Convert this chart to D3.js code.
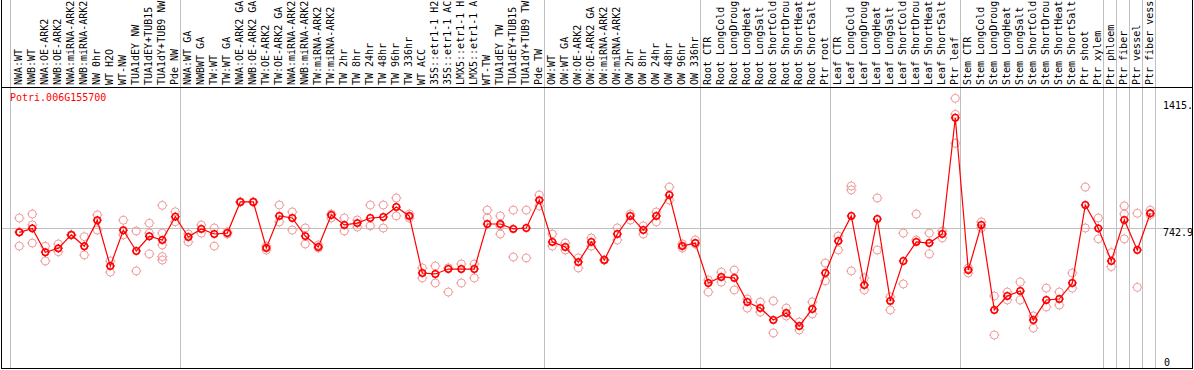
<!DOCTYPE html>
<html>
<head>
<meta charset="utf-8">
<script src="https://cdn.jsdelivr.net/npm/d3@7"></script>
<style>
  body { margin: 0; background: #fff; }
  svg { display: block; }
  text { font-family: "DejaVu Sans Mono", monospace; font-size: 10px; }
</style>
</head>
<body>
<svg id="chart" width="1194" height="370"></svg>
<script>
var geneName = "Potri.006G155700";

var sampleLabels = [
  "NWA:WT", "NWB:WT", "NWA:OE-ARK2", "NWB:OE-ARK2", "NWA:miRNA-ARK2", "NWB:miRNA-ARK2",
  "NW 0hr", "WT H2O", "WT-NW", "TUA1dEY NW", "TUA1dEY+TUB15 NW", "TUA1dY+TUB9 NW", "Pde NW",
  "NWA:WT GA", "NWBWT GA", "TW:WT", "TW:WT GA", "NWA:OE-ARK2 GA", "NWB:OE-ARK2 GA",
  "TW:OE-ARK2", "TW:OE-ARK2 GA", "NWA:miRNA-ARK2 GA", "NWB:miRNA-ARK2 GA", "TW:miRNA-ARK2",
  "TW:miRNA-ARK2 GA", "TW 2hr", "TW 8hr", "TW 24hr", "TW 48hr", "TW 96hr", "TW 336hr",
  "WT ACC", "35S::etr1-1 H2O", "35S::etr1-1 ACC", "LMX5::etr1-1 H2O", "LMX5::etr1-1 ACC",
  "WT-TW", "TUA1dEY TW", "TUA1dEY+TUB15 TW", "TUA1dY+TUB9 TW", "Pde TW",
  "OW:WT", "OW:WT GA", "OW:OE-ARK2", "OW:OE-ARK2 GA", "OW:miRNA-ARK2", "OW:miRNA-ARK2 GA",
  "OW 2hr", "OW 8hr", "OW 24hr", "OW 48hr", "OW 96hr", "OW 336hr",
  "Root CTR", "Root LongCold", "Root LongDrought", "Root LongHeat", "Root LongSalt",
  "Root ShortCold", "Root ShortDrought", "Root ShortHeat", "Root ShortSalt", "Ptr root",
  "Leaf CTR", "Leaf LongCold", "Leaf LongDrought", "Leaf LongHeat", "Leaf LongSalt",
  "Leaf ShortCold", "Leaf ShortDrought", "Leaf ShortHeat", "Leaf ShortSalt", "Ptr leaf",
  "Stem CTR", "Stem LongCold", "Stem LongDrought", "Stem LongHeat", "Stem LongSalt",
  "Stem ShortCold", "Stem ShortDrought", "Stem ShortHeat", "Stem ShortSalt", "Ptr shoot",
  "Ptr xylem", "Ptr phloem", "Ptr fiber", "Ptr vessel", "Ptr fiber vessel"
];

// index of the last sample in each group
var groupEnds = [12, 40, 52, 62, 72, 83, 84, 85, 86, 87];

var meanValues = [
  720, 741, 614, 635, 706, 646, 784, 541, 731, 621, 699, 679, 803,
  695, 738, 711, 716, 881, 881, 637, 807, 796, 700, 642, 812, 759, 769, 796, 801, 854, 807,
  504, 499, 525, 525, 525, 764, 764, 738, 743, 891,
  669, 642, 562, 669, 573, 711, 807, 732, 807, 918, 647, 663,
  451, 483, 478, 350, 318, 255, 292, 223, 313, 504,
  674, 807, 440, 791, 356, 568, 669, 663, 711, 1328,
  520, 759, 308, 382, 409, 255, 361, 366, 451, 865, 741,
  568, 785, 626, 821
];

var replicateValues = [
  [796, 722, 647], [817, 759, 663], [646, 568], [658, 617], [706, 706], [697, 600],
  [812, 732], [568, 509], [784, 706], [727, 515], [768, 716, 605], [863, 716, 653, 591, 573], [829, 776],
  [711, 669], [759, 716], [743, 647], [722, 711], [881, 881], [881, 881], [647, 626],
  [865, 775], [828, 732], [743, 658], [653, 637], [817, 796], [796, 727], [785, 748],
  [865, 754], [865, 743], [902, 807], [817, 796],
  [531, 478], [541, 451], [531, 403], [552, 451], [552, 478], [838, 796], [807, 754, 711],
  [838, 589], [838, 584], [918, 860],
  [711, 647], [663, 626], [584, 531], [690, 647], [573, 573], [743, 679], [817, 785],
  [754, 711], [828, 775], [960, 891], [658, 637], [679, 658],
  [467, 403], [509, 456], [520, 414], [366, 318], [350, 297], [356, 186], [318, 276],
  [244, 202], [350, 287], [557, 462],
  [700, 626], [966, 945, 515], [478, 414], [902, 626], [377, 308], [716, 446], [817, 679],
  [716, 605], [727, 690], [1431, 1346, 1192],
  [531, 504], [775, 743], [382, 175], [403, 361], [456, 361], [276, 212], [424, 324],
  [403, 334], [504, 424], [960, 743], [796, 685],
  [612, 538], [860, 817, 685], [821, 428], [838, 812]
];

var maxValue = 1415;
var axisTicks = [maxValue, maxValue * 1.05 / 2, 0];

var svg = d3.select("#chart");
var W = 1194, plotTop = 88, plotBottom = 368;

var x = d3.scalePoint().domain(d3.range(sampleLabels.length)).range([19.3, 1150.3]);
var y = d3.scaleLinear().domain([0, maxValue * 1.05]).range([plotBottom, plotTop]);

function sepX(i) { return Math.round(x(i) + 4.7) + 0.5; }

// grid lines
var grid = svg.append("g").attr("stroke", "#c0c0c0").attr("stroke-width", 1);
grid.append("line").attr("x1", 10.5).attr("x2", 10.5).attr("y1", 0).attr("y2", plotBottom);
grid.selectAll(".sep").data(groupEnds).enter().append("line")
  .attr("x1", sepX).attr("x2", sepX)
  .attr("y1", 0).attr("y2", plotBottom);
grid.append("line")
  .attr("x1", 1).attr("x2", W - 1)
  .attr("y1", Math.round(y(axisTicks[1])) + 0.5).attr("y2", Math.round(y(axisTicks[1])) + 0.5);

// sample labels, rotated, reading upward from the top line
// only 14 characters fit above the plot, like the original
svg.append("g").selectAll("text").data(sampleLabels).enter().append("text")
  .attr("transform", function(d, i) { return "translate(" + (x(i) + 2.5) + ",85) rotate(-90)"; })
  .attr("text-anchor", "start")
  .attr("fill", "#000")
  .text(function(d) { return d.length > 14 ? d.slice(0, 14) : d; })
  .append("title").text(function(d) { return d; });

// frame
var frame = svg.append("g").attr("stroke", "#000").attr("stroke-width", 1);
frame.append("line").attr("x1", 1.5).attr("x2", 1.5).attr("y1", 0).attr("y2", 369);
frame.append("line").attr("x1", W - 1.5).attr("x2", W - 1.5).attr("y1", 0).attr("y2", 369);
frame.append("line").attr("x1", 1).attr("x2", W - 1).attr("y1", 87.5).attr("y2", 87.5);
frame.append("line").attr("x1", 1).attr("x2", W - 1).attr("y1", 368.5).attr("y2", 368.5);

// axis labels on the right
svg.append("text").attr("x", 1163).attr("y", y(axisTicks[0]) + 8).text("1415.");
svg.append("text").attr("x", 1163).attr("y", y(axisTicks[1]) + 8).text(d3.format(".1f")(axisTicks[1]));
svg.append("text").attr("x", 1164).attr("y", 366).text("0");

// gene name
svg.append("text").attr("x", 10).attr("y", 100.5).attr("fill", "#ff0000").text(geneName);

function marker(g, cx, cy, r, color, w) {
  g.append("circle").attr("cx", cx).attr("cy", cy).attr("r", r)
    .attr("fill", "none").attr("stroke", color).attr("stroke-width", w);
  [[0, -1], [1, 0], [0, 1], [-1, 0]].forEach(function(d) {
    g.append("line")
      .attr("x1", cx + d[0] * r).attr("y1", cy + d[1] * r)
      .attr("x2", cx + d[0] * (r + 1.2)).attr("y2", cy + d[1] * (r + 1.2))
      .attr("stroke", color).attr("stroke-width", w);
  });
}

// replicates
var repG = svg.append("g");
replicateValues.forEach(function(vals, i) {
  vals.forEach(function(v) { marker(repG, x(i), y(v), 4, "#f09a9a", 1); });
});

// mean line
svg.append("path")
  .datum(meanValues)
  .attr("fill", "none")
  .attr("stroke", "#ff0000")
  .attr("stroke-width", 1.2)
  .attr("d", d3.line().x(function(d, i) { return x(i); }).y(function(d) { return y(d); }));

var meanG = svg.append("g");
meanValues.forEach(function(v, i) { marker(meanG, x(i), y(v), 3.2, "#ff0000", 1.5); });
</script>
</body>
</html>
